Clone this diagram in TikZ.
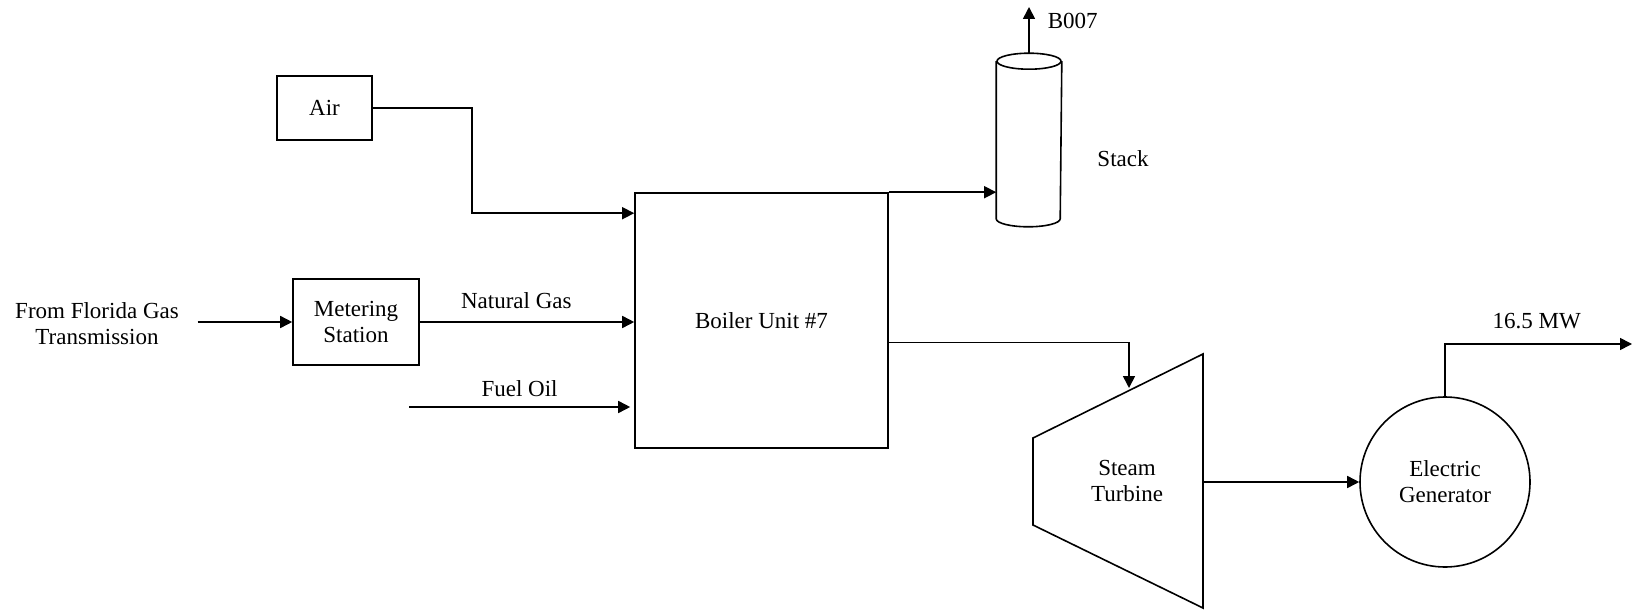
\documentclass[tikz,border=0pt]{standalone}
\usepackage{fontspec}
\setmainfont{Liberation Serif}
\usetikzlibrary{arrows.meta, positioning, calc}

\begin{document}
\begin{tikzpicture}[x=0.5pt, y=-0.5pt, line width=0.8pt,
    font=\fontsize{11.5}{13}\selectfont,
    blk/.style={draw, align=center, inner sep=0pt},
    lbl/.style={align=center, inner sep=0pt},
    flow/.style={-{Triangle[length=6pt, width=6pt]}}]
    \useasboundingbox (0,0) rectangle (1632,610);
    % units
    \node[blk, minimum width=47.5pt, minimum height=32pt] (air) at (324.5,108) {Air};
    \node[blk, minimum width=63pt, minimum height=43pt] (meter) at (356,322) {Metering\\Station};
    \node[blk, minimum width=126.5pt, minimum height=127.5pt] (boiler) at (761.5,320.5) {Boiler Unit \#7};
    \node[lbl] (src) at (97,324) {From Florida Gas\\Transmission};
    \node[circle, draw, minimum size=85pt, align=center, inner sep=0pt] (gen) at (1445,482) {Electric\\Generator};
    % stack
    \node[minimum width=32pt, minimum height=78pt, inner sep=0pt] (stack) at (1029,140) {};
    \draw (stack.north) ellipse [x radius=16pt, y radius=4pt];
    \draw (stack.north west) -- (stack.south west)
        arc[start angle=180, end angle=360, x radius=16pt, y radius=4pt] -- (stack.north east);
    \node[lbl] (stacklbl) at (1123,159) {Stack};
    % turbine
    \draw (1033,438) -- (1203,354) -- (1203,608) -- (1033,525) -- cycle;
    \node[lbl] (turb) at (1127,481) {Steam\\Turbine};
    \coordinate (tin) at (1129,388);
    \coordinate (tout) at (1203,482);
    \coordinate (oil) at (409,407);
    \coordinate (vent) at (1029,7);
    \coordinate (power) at (1632,344);
    % streams
    \draw[flow] (air.east) -- ++(99,0) |- ([yshift=-10.5pt]boiler.north west);
    \draw[flow] ([xshift=9pt]src.east |- meter.west) -- (meter.west);
    \draw[flow] (meter.east) -- (boiler.west |- meter.east)
        node[lbl, pos=0.45, above=6pt] {Natural Gas};
    \draw[flow] (oil) -- ([xshift=-2pt]oil -| boiler.west)
        node[lbl, midway, above=4.5pt] {Fuel Oil};
    \draw[flow] (boiler.north east) -- (stack.west |- boiler.north);
    \draw[flow] ([yshift=4pt]stack.north) -- (vent)
        node[lbl, right=9pt, yshift=-7pt] {B007};
    \draw[flow] ([yshift=-11pt]boiler.east) -| (tin);
    \draw[flow] (tout |- gen.west) -- (gen.west);
    \draw[flow] (gen.north) |- (power)
        node[lbl, pos=0.745, above=7pt] {16.5 MW};
\end{tikzpicture}
\end{document}
